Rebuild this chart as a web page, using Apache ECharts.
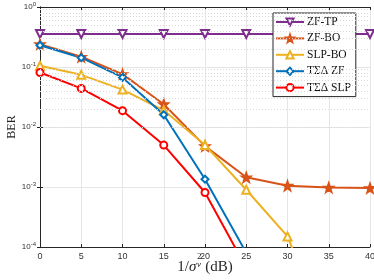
<!DOCTYPE html>
<html><head><meta charset="utf-8">
<script src="https://cdn.jsdelivr.net/npm/echarts@6/dist/echarts.min.js"></script>
<style>html,body{margin:0;padding:0;background:#fff}#c{width:374px;height:280px}</style>
</head><body><div id="c"></div>
<script>
var xValues = [0, 5, 10, 15, 20, 25, 30, 35, 40];
var zfTP   = [0.355, 0.355, 0.355, 0.355, 0.355, 0.355, 0.355, 0.355, 0.355];
var zfBO   = [0.24, 0.148, 0.076, 0.024, 0.0048, 0.00145, 0.00105, 0.00098, 0.00096];
var slpBO  = [0.105, 0.074, 0.042, 0.019, 0.005, 0.0009, 0.00015, 0.000003, null];
var tsdZF  = [0.23, 0.143, 0.067, 0.016, 0.00135, 0.00008, null, null, null];
var tsdSLP = [0.081, 0.044, 0.0187, 0.005, 0.00081, 0.000045, null, null, null];
var xTicks = [0, 5, 10, 15, 20, 25, 30, 35, 40];
var yTickExponents = [-4, -3, -2, -1, 0];

var minorLines = [];
yTickExponents.slice(0, 4).forEach(function (e) {
  for (var m = 2; m <= 9; m++) minorLines.push({ yAxis: m * Math.pow(10, e) });
});

function pairs(arr) { return xValues.map(function (x, i) { return [x, arr[i]]; }); }

var star = 'path://M0,-10 L2.35,-3.24 L9.51,-3.09 L3.8,1.24 L5.88,8.09 L0,4 L-5.88,8.09 L-3.8,1.24 L-9.51,-3.09 L-2.35,-3.24 Z';
var serif = 'Liberation Serif';
var axisColor = '#262626';

var chart = echarts.init(document.getElementById('c'), null, { renderer: 'canvas' });
function lineSeries(name, data, color, symbol, size, rot) {
  return {
    name: name, type: 'line', data: pairs(data), color: color,
    symbol: symbol, symbolSize: size, symbolRotate: rot || 0,
    showAllSymbol: true, clip: true, connectNulls: false,
    lineStyle: { width: 2, color: color },
    itemStyle: { color: color, borderColor: color, borderWidth: 1.5 },
    emphasis: { disabled: true }, animation: false, z: 3
  };
}
var option = {
  animation: false,
  grid: { left: 40, right: 4, top: 7, bottom: 33, outerBoundsMode: 'none', containLabel: false },
  xAxis: [{
    type: 'value', min: 0, max: 40, interval: 5,
    axisLine: { show: true, onZero: false, lineStyle: { color: axisColor, width: 1 } },
    axisTick: { show: true, inside: true, length: 3, lineStyle: { color: axisColor } },
    axisLabel: { color: '#333', fontSize: 9, margin: 5, fontFamily: 'Liberation Sans' },
    splitLine: { show: true, lineStyle: { color: '#e6e6e6', width: 1 } },
    name: '{n|1/}{i|σ}{g| }{n| (dB)}', nameLocation: 'middle', nameGap: 13, nameMoveOverlap: false,
    nameTextStyle: {
      color: axisColor, fontFamily: serif,
      rich: {
        n: { fontSize: 15, fontFamily: serif, color: axisColor },
        i: { fontSize: 15, fontFamily: serif, fontStyle: 'italic', color: axisColor },
        g: { fontSize: 15, fontFamily: serif, width: 5 }
      }
    }
  }, {
    type: 'value', min: 0, max: 40, interval: 5, position: 'top',
    axisLine: { show: true, lineStyle: { color: axisColor, width: 1 } },
    axisTick: { show: true, inside: true, length: 3, lineStyle: { color: axisColor } },
    axisLabel: { show: false }, splitLine: { show: false }
  }],
  yAxis: [{
    type: 'log', logBase: 10, min: 1e-4, max: 1,
    axisLine: { show: true, lineStyle: { color: axisColor, width: 1 } },
    axisTick: { show: true, inside: true, length: 3, lineStyle: { color: axisColor } },
    axisLabel: {
      margin: 4, color: '#333',
      formatter: function (v) { return '{b|10}{s|' + Math.round(Math.log10(v)) + '}'; },
      rich: {
        b: { fontSize: 8, fontFamily: 'Liberation Sans', color: '#333' },
        s: { fontSize: 6, fontFamily: 'Liberation Sans', color: '#333', padding: [0, 0, 6, 0] }
      }
    },
    splitLine: { show: true, lineStyle: { color: '#e6e6e6', width: 1 } },
    name: 'BER', nameLocation: 'middle', nameGap: 22, nameRotate: 90, nameMoveOverlap: false,
    nameTextStyle: { color: axisColor, fontFamily: serif, fontSize: 12 }
  }, {
    type: 'log', logBase: 10, min: 1e-4, max: 1, position: 'right',
    axisLine: { show: true, lineStyle: { color: axisColor, width: 1 } },
    axisTick: { show: true, inside: true, length: 3, lineStyle: { color: axisColor } },
    axisLabel: { show: false }, splitLine: { show: false }
  }],
  legend: {
    orient: 'vertical', left: 273, top: 13,
    padding: [3, 5, 3, 2], itemGap: 4.4, itemWidth: 28, itemHeight: 9,
    backgroundColor: '#fff', borderColor: axisColor, borderWidth: 1, borderRadius: 0,
    textStyle: { fontFamily: serif, fontSize: 11.5, color: '#111', padding: [0, 0, 0, -2] },
    data: ['ZF-TP', 'ZF-BO', 'SLP-BO', 'TΣΔ ZF', 'TΣΔ SLP']
  },
  graphic: [{
    type: 'text', left: 197, top: 252, silent: true,
    style: { text: '2', font: '9px "Liberation Serif"', fill: axisColor }
  }, {
    type: 'text', left: 197, top: 260, silent: true,
    style: { text: 'v', font: 'italic 9px "Liberation Serif"', fill: axisColor }
  }],
  series: [
    {
      type: 'line', data: [], silent: true, symbol: 'none',
      markLine: {
        silent: true, symbol: 'none', animation: false, label: { show: false },
        lineStyle: { type: [1, 2], color: '#d9d9d9', width: 1 },
        data: minorLines
      }, z: 1
    },
    lineSeries('ZF-TP', zfTP, '#7E2F8E', 'emptyTriangle', 8, 180),
    lineSeries('ZF-BO', zfBO, '#D95319', star, 10),
    lineSeries('SLP-BO', slpBO, '#EDB120', 'emptyTriangle', 8),
    lineSeries('TΣΔ ZF', tsdZF, '#0072BD', 'emptyDiamond', 7),
    lineSeries('TΣΔ SLP', tsdSLP, '#FF0000', 'emptyCircle', 7)
  ]
};
chart.setOption(option);
</script></body></html>
